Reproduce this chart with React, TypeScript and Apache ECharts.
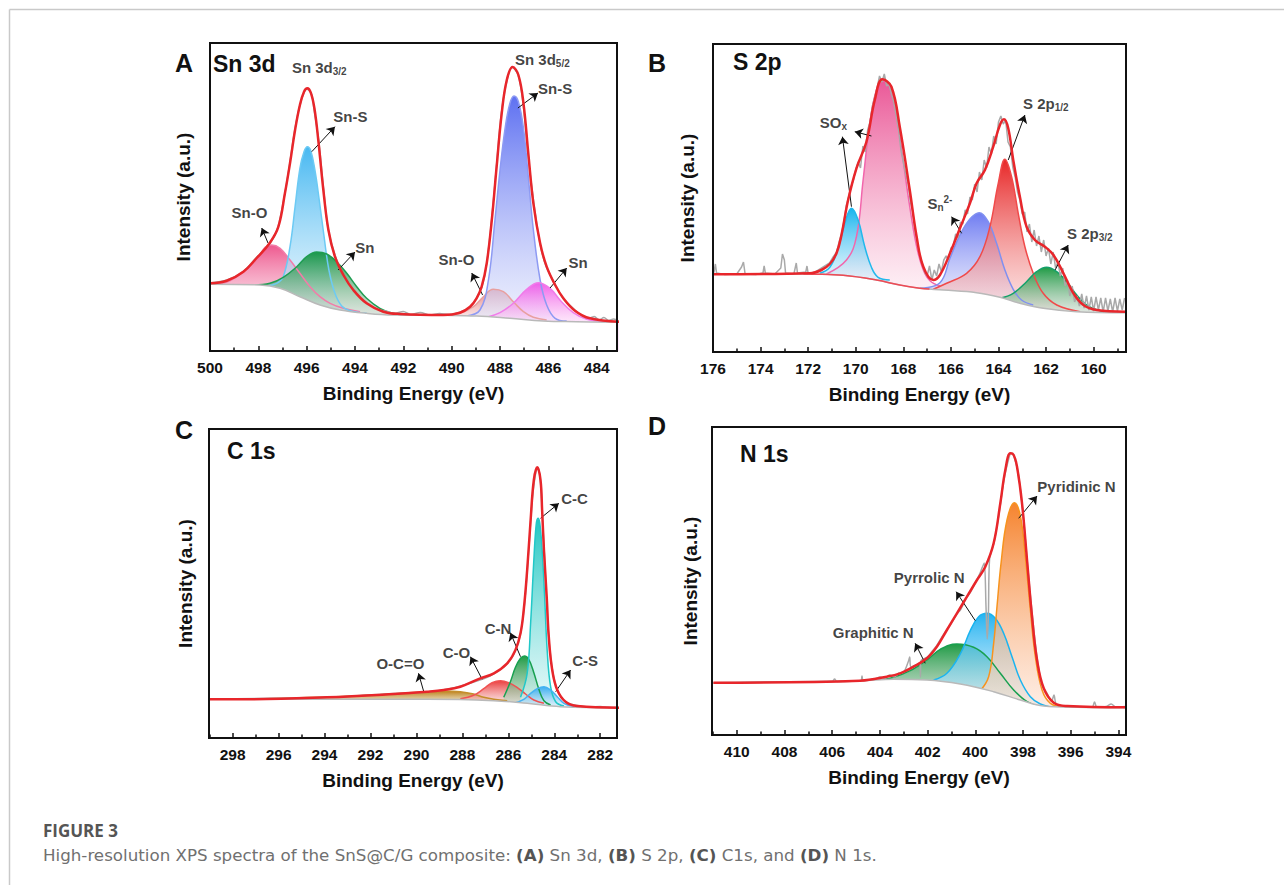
import React, { useEffect, useRef } from "react";
import * as echarts from "echarts";

type Pt = [number, number];

// ---------------- Panel A : Sn 3d ----------------
const aBackground: Pt[] = [[500, 66.7], [497.93, 66], [497.1, 62.7], [496.28, 54.3], [495.45, 46], [494.62, 41], [493.52, 37.7], [492.41, 36], [490.34, 35.7], [488.97, 35], [487.59, 32.7], [486.21, 30], [484.83, 29.3], [483.03, 28.7]];
const aEnvelope: Pt[] = [[500, 67.7], [499.31, 70.3], [498.62, 79.3], [498.07, 93], [497.52, 108.3], [497.17, 124.3], [496.9, 157.7], [496.69, 187.7], [496.48, 221], [496.28, 246], [496.11, 259.3], [495.97, 262.7], [495.83, 258.3], [495.68, 242.7], [495.52, 211], [495.31, 161], [495.1, 121], [494.83, 94.3], [494.48, 76], [494.07, 61], [493.52, 47.7], [492.83, 39.3], [492.14, 37], [490.34, 36], [489.66, 38.3], [489.24, 44.3], [488.97, 52.7], [488.76, 64.3], [488.55, 87.7], [488.34, 131], [488.14, 184.3], [487.93, 237.7], [487.72, 271], [487.48, 284], [487.24, 276], [487.03, 247.7], [486.83, 197.7], [486.62, 147.7], [486.34, 107.7], [486.07, 84.3], [485.72, 66], [485.38, 52.7], [484.9, 40.3], [484.28, 32.7], [483.03, 29.3]];
const aRaw: Pt[] = [[500, 68], [499.3, 71], [498.6, 80], [498.1, 93], [497.5, 108], [497.2, 123], [496.9, 158], [496.7, 188], [496.5, 220], [496.3, 244], [496.1, 259], [496.0, 262], [495.8, 257], [495.7, 242], [495.5, 210], [495.3, 162], [495.1, 121], [494.8, 94], [494.5, 77], [494.1, 62], [493.5, 48], [493.0, 41], [492.7, 40], [492.4, 37.5], [492.0, 39.5], [491.7, 36.5], [491.3, 38.5], [490.9, 36], [490.5, 37.5], [490.1, 36.5], [489.7, 38.5], [489.2, 44.5], [489.0, 52], [488.75, 64], [488.55, 88], [488.35, 131], [488.15, 184], [487.95, 237], [487.7, 272], [487.5, 284], [487.25, 276], [487.05, 248], [486.85, 198], [486.6, 148], [486.35, 108], [486.1, 85], [485.7, 66], [485.4, 53], [484.9, 41], [484.6, 35], [484.3, 33], [484.1, 34.5], [483.9, 31], [483.7, 33.5], [483.5, 30.5], [483.3, 32], [483.1, 30]];
const aSnO32: Pt[] = [[500, 66.7], [499.31, 69], [498.62, 79.3], [498.07, 91.5], [497.72, 103.7], [497.45, 106], [497.1, 102.7], [496.69, 91], [496.28, 77.7], [495.86, 64.3], [495.45, 54.3], [495.03, 47.7], [494.48, 42.7], [493.79, 39.3]];
const aSnS32: Pt[] = [[497.66, 65], [497.24, 67.7], [496.97, 74.3], [496.69, 104.3], [496.48, 144.3], [496.28, 182.7], [496.11, 199.3], [495.97, 204.3], [495.83, 200.3], [495.66, 181], [495.48, 151], [495.28, 114.3], [495.08, 81], [494.83, 57.7], [494.55, 45], [494.21, 40.3], [493.52, 37.7]];
const aSn32: Pt[] = [[498.21, 66], [497.52, 67.7], [496.97, 73.7], [496.41, 84.3], [496.0, 94.3], [495.59, 99], [495.17, 97], [494.76, 89.3], [494.34, 77.7], [493.93, 64.3], [493.52, 52.7], [492.97, 42.7], [492.41, 37.7], [491.72, 36]];
const aSnO52: Pt[] = [[490.21, 35.7], [489.66, 37.7], [489.1, 44.3], [488.69, 54.3], [488.28, 61.7], [487.86, 59.3], [487.45, 49.3], [487.03, 39.3], [486.62, 33.7], [486.07, 31]];
const aSnS52: Pt[] = [[489.38, 35], [488.83, 41], [488.48, 71], [488.21, 131], [488.0, 181], [487.79, 222.7], [487.59, 247.7], [487.42, 255], [487.24, 249.3], [487.03, 222.7], [486.83, 174.3], [486.62, 121], [486.34, 71], [486.07, 46], [485.72, 32.7], [485.24, 30]];
const aSn52: Pt[] = [[488.55, 33.7], [488.0, 38.3], [487.45, 47.7], [486.9, 61.7], [486.41, 68.3], [485.93, 62.7], [485.52, 51], [484.97, 38.3], [484.41, 31.7], [483.72, 29.3], [483.03, 28.7]];
const aLabels = [
  { x: 496.61, y: 284, text: "{m|Sn 3d}{sb|3/2}", align: "left" },
  { x: 494.19, y: 235, text: "Sn-S" },
  { x: 498.37, y: 139, text: "Sn-O" },
  { x: 493.59, y: 104, text: "Sn" },
  { x: 487.38, y: 292, text: "{m|Sn 3d}{sb|5/2}", align: "left" },
  { x: 485.72, y: 263, text: "Sn-S" },
  { x: 489.8, y: 92, text: "Sn-O" },
  { x: 484.77, y: 89, text: "Sn" },
];
const aArrows: [Pt, Pt][] = [
  [[495.79, 199.3], [494.83, 224.3]],
  [[497.6, 108], [497.86, 123]],
  [[494.7, 81], [494.0, 99]],
  [[487.26, 243], [486.43, 258]],
  [[488.72, 56], [489.17, 78]],
  [[485.93, 63], [485.24, 83]],
];

// ---------------- Panel B : S 2p ----------------
const bBackground: Pt[] = [[176, 77.7], [171.93, 78], [170.53, 76.7], [169.13, 72], [168.15, 67], [167.3, 63.7], [166.32, 62], [164.92, 59.3], [163.94, 54.7], [163.1, 48.7], [162.12, 43.7], [160.71, 40.3], [158.68, 39.3]];
const bEnvelope: Pt[] = [[176, 77.7], [171.93, 78.7], [171.44, 82], [171.09, 88], [170.81, 98.7], [170.6, 117], [170.32, 152], [169.97, 183.7], [169.55, 210.3], [169.2, 252], [168.88, 272.7], [168.5, 265.3], [168.15, 225.3], [167.73, 162], [167.44, 115.3], [167.16, 85.3], [166.74, 72], [166.46, 77], [166.04, 98.7], [165.62, 123.7], [165.2, 148.7], [164.92, 168.7], [164.57, 182], [164.22, 205.3], [163.94, 227], [163.77, 232.7], [163.59, 223.7], [163.38, 192], [163.1, 155.3], [162.82, 125.3], [162.47, 112], [162.05, 105.3], [161.69, 97], [161.27, 78.7], [160.85, 58.7], [160.43, 47], [159.87, 42], [158.68, 40.3]];
const bRaw: Pt[] = [[176, 77], [175.95, 81], [175.9, 88], [175.85, 79], [175.5, 77.5], [175.0, 78], [174.8, 85], [174.72, 90], [174.65, 78], [174.2, 77.5], [173.9, 79], [173.85, 86], [173.8, 79], [173.4, 78], [173.15, 84], [173.08, 98], [173.0, 92], [172.95, 79], [172.6, 78], [172.5, 89], [172.45, 79], [172.1, 80], [172.05, 86], [172.0, 78.5], [171.7, 80], [171.5, 83], [171.3, 86], [171.1, 89], [170.95, 95], [170.8, 100], [170.7, 110], [170.6, 118], [170.5, 130], [170.4, 146], [170.3, 155], [170.2, 165], [170.1, 172], [170.0, 182], [169.9, 190], [169.8, 184], [169.7, 206], [169.6, 200], [169.5, 222], [169.4, 230], [169.3, 246], [169.2, 255], [169.1, 264], [169.0, 276], [168.9, 270], [168.8, 278], [168.7, 266], [168.6, 268], [168.5, 258], [168.4, 250], [168.3, 236], [168.2, 222], [168.1, 202], [168.0, 190], [167.9, 178], [167.8, 168], [167.7, 150], [167.6, 140], [167.5, 120], [167.4, 108], [167.3, 96], [167.2, 88], [167.1, 80], [167.0, 76], [166.9, 86], [166.8, 72], [166.7, 82], [166.6, 76], [166.5, 88], [166.4, 80], [166.3, 92], [166.2, 96], [166.1, 92], [166.0, 104], [165.9, 106], [165.8, 118], [165.7, 114], [165.6, 130], [165.5, 128], [165.4, 142], [165.3, 138], [165.2, 155], [165.1, 152], [165.0, 168], [164.9, 160], [164.8, 180], [164.7, 172], [164.6, 192], [164.5, 184], [164.4, 205], [164.3, 198], [164.2, 216], [164.1, 208], [164.0, 230], [163.9, 236], [163.8, 228], [163.7, 232], [163.6, 210], [163.5, 205], [163.4, 185], [163.3, 175], [163.2, 160], [163.1, 152], [163.0, 138], [162.9, 140], [162.8, 120], [162.7, 128], [162.6, 110], [162.5, 122], [162.4, 106], [162.3, 116], [162.2, 100], [162.1, 112], [162.0, 96], [161.9, 104], [161.8, 88], [161.7, 100], [161.6, 84], [161.5, 90], [161.4, 76], [161.3, 84], [161.2, 66], [161.1, 72], [161.0, 56], [160.9, 66], [160.8, 50], [160.7, 56], [160.6, 46], [160.5, 58], [160.4, 44], [160.3, 56], [160.2, 42], [160.1, 55], [160.0, 41], [159.9, 55], [159.8, 42], [159.7, 54], [159.6, 40], [159.5, 54], [159.4, 41], [159.3, 53], [159.2, 40], [159.1, 54], [159.0, 41], [158.9, 53], [158.8, 42], [158.7, 54]];
const bSOxPink: Pt[] = [[171.23, 78], [170.39, 92], [169.97, 115.3], [169.69, 172], [169.41, 228.7], [169.13, 262], [168.86, 271.3], [168.57, 265.3], [168.29, 238.7], [168.01, 192], [167.73, 145.3], [167.44, 105.3], [167.16, 82], [166.88, 71.3], [166.46, 66]];
const bSOxCyan: Pt[] = [[171.51, 78.7], [171.09, 84.7], [170.74, 103.7], [170.46, 128.7], [170.18, 143.7], [169.9, 132], [169.62, 105.3], [169.34, 84.7], [169.06, 74.7], [168.57, 72]];
const bSn2: Pt[] = [[167.3, 63.7], [166.46, 69.3], [166.04, 93.7], [165.62, 117], [165.2, 133], [164.81, 139.3], [164.43, 130.3], [164.08, 108.7], [163.73, 82], [163.38, 62.7], [163.03, 52], [162.54, 47]];
const bS2p12: Pt[] = [[166.74, 62.7], [166.18, 68.7], [165.34, 78.7], [164.78, 95.3], [164.36, 125.3], [164.01, 168.7], [163.73, 192.7], [163.45, 175.3], [163.17, 138.7], [162.89, 105.3], [162.54, 78.7], [162.12, 58.7], [161.55, 47], [160.57, 40.3]];
const bS2p32: Pt[] = [[163.94, 53.7], [163.38, 58.7], [162.82, 70.3], [162.4, 80.3], [161.98, 84.7], [161.55, 80.3], [161.13, 70.3], [160.71, 57], [160.29, 47], [159.73, 41.3], [159.17, 39.3]];
const bLabels = [
  { x: 170.94, y: 230, text: "{m|SO}{sb|x}" },
  { x: 166.46, y: 149, text: "{m|S}{sb|n}{sp|2-}" },
  { x: 162.97, y: 249, text: "{m|S 2p}{sb|1/2}", align: "left" },
  { x: 161.12, y: 119, text: "{m|S 2p}{sb|3/2}", align: "left" },
];
const bArrows: [Pt, Pt][] = [
  [[170.18, 145.3], [170.56, 215.3]],
  [[169.34, 216], [170.04, 220.3]],
  [[165.55, 118.7], [165.97, 135.3]],
  [[163.59, 192], [162.89, 237]],
  [[161.62, 82], [161.07, 107]],
];
// red fitted baseline under the SOx doublet
const bRedBase: Pt[] = [[172.2, 78.2], [171.93, 78], [170.53, 76.7], [169.13, 72], [168.15, 67], [167.3, 63.7], [166.9, 62.9]];

// ---------------- Panel C : C 1s ----------------
const cBackground: Pt[] = [[299, 38.7], [289.54, 38.7], [286.63, 37.3], [285.18, 34.7], [283.73, 31.3], [281.11, 30.3]];
const cEnvelope: Pt[] = [[299, 38.7], [297.53, 38.7], [293.9, 40.7], [290.99, 44], [289.54, 46.3], [288.81, 48], [288.09, 51.3], [287.22, 59.7], [286.63, 64.7], [286.05, 74.7], [285.69, 88], [285.47, 104.7], [285.33, 128], [285.18, 168], [285.03, 218], [284.89, 258], [284.74, 270.7], [284.6, 258], [284.53, 228], [284.45, 188], [284.33, 141.3], [284.24, 101.3], [284.09, 68], [283.87, 48], [283.51, 36.3], [283.0, 32], [281.11, 30.3]];
const cRaw: Pt[] = [[299, 39], [297, 39.5], [295, 40], [293, 41.5], [291, 44.5], [289.5, 46], [288.5, 49.5], [287.5, 56], [286.8, 62], [286.2, 71], [285.8, 82], [285.5, 101], [285.3, 133], [285.1, 192], [284.95, 240], [284.8, 266], [284.7, 270], [284.6, 256], [284.5, 214], [284.4, 170], [284.3, 122], [284.2, 90], [284.0, 58], [283.8, 45], [283.5, 36], [283.0, 32.5], [282.5, 31], [282.0, 31.5], [281.5, 30.5], [281.2, 30.5]];
const cOCO: Pt[] = [[297.68, 38.7], [295.35, 40], [292.45, 42.3], [289.9, 45.7], [288.81, 47], [288.09, 46.3], [287.51, 44], [287.07, 40.7], [286.63, 38.7], [286.05, 37.3]];
const cCO: Pt[] = [[288.09, 39.3], [287.51, 42.7], [287.07, 49.3], [286.71, 55.3], [286.34, 57.3], [285.98, 55.3], [285.62, 50.7], [285.25, 44], [284.89, 38], [284.45, 34.7]];
const cCN: Pt[] = [[286.2, 40.7], [285.91, 56.3], [285.69, 70.7], [285.47, 79.7], [285.3, 82], [285.11, 78.7], [284.89, 65.3], [284.67, 48.7], [284.45, 37.3], [284.16, 33]];
const cCC: Pt[] = [[285.47, 40.7], [285.18, 64.7], [285.03, 114.7], [284.89, 178], [284.79, 213], [284.71, 219.7], [284.63, 214.7], [284.53, 188], [284.42, 141.3], [284.31, 88], [284.16, 51.3], [283.94, 36.3], [283.58, 32]];
const cCS: Pt[] = [[285.76, 34.7], [285.33, 38.7], [285.03, 44.7], [284.74, 49.3], [284.45, 51.3], [284.16, 48], [283.87, 41.3], [283.58, 34.7], [283.15, 31.3]];
const cLabels = [
  { x: 283.12, y: 240, text: "C-C" },
  { x: 286.45, y: 110, text: "C-N" },
  { x: 288.26, y: 86, text: "C-O" },
  { x: 290.7, y: 75, text: "O-C=O" },
  { x: 282.66, y: 78, text: "C-S" },
];
const cArrows: [Pt, Pt][] = [
  [[284.6, 219.7], [283.8, 234.7]],
  [[285.47, 81.3], [285.91, 105.3]],
  [[287.14, 58.7], [287.65, 81.3]],
  [[289.69, 47], [289.91, 64.7]],
  [[283.94, 46.3], [283.29, 68]],
];

// ---------------- Panel D : N 1s ----------------
const dBackground: Pt[] = [[410.98, 52.3], [404.83, 54.3], [403.43, 55.7], [402.03, 55], [400.63, 51], [399.23, 43.3], [398.11, 35], [397.13, 29], [395.73, 27.7], [393.71, 27.3]];
const dEnvelope: Pt[] = [[410.98, 52.3], [404.83, 54.3], [403.71, 58.3], [403.15, 61.7], [402.59, 68.3], [402.03, 76.7], [401.61, 88.3], [401.19, 105], [400.77, 121.7], [400.35, 138.3], [399.93, 155], [399.58, 168.3], [399.23, 191.7], [398.95, 231.7], [398.74, 265], [398.53, 281.7], [398.39, 280], [398.25, 268.3], [398.04, 231.7], [397.83, 175], [397.62, 118.3], [397.41, 75], [397.13, 46.7], [396.71, 32.3], [396.15, 29], [393.71, 27.7]];
const dRaw: Pt[] = [[410.98, 52], [408, 53], [406.0, 53.5], [405.9, 56], [405.8, 53.5], [404.8, 54.5], [404.75, 59], [404.7, 54.5], [404.2, 56], [404.0, 58], [403.8, 56.5], [403.6, 60], [403.4, 58], [403.2, 62], [403.0, 63], [402.8, 74], [402.75, 78], [402.7, 68], [402.5, 70], [402.32, 72], [402.3, 58], [402.28, 74], [402.0, 78], [401.8, 84], [401.6, 90], [401.4, 98], [401.2, 105], [401.0, 112], [400.8, 120], [400.6, 126], [400.4, 136], [400.2, 143], [400.0, 152], [399.8, 162], [399.7, 168], [399.62, 172], [399.55, 128], [399.5, 96], [399.45, 120], [399.4, 176], [399.2, 194], [399.0, 222], [398.8, 255], [398.6, 276], [398.5, 282], [398.4, 280], [398.2, 262], [398.0, 222], [397.8, 168], [397.6, 118], [397.4, 76], [397.2, 50], [397.0, 42], [396.8, 34], [396.7, 40], [396.6, 31], [396.2, 29], [395.6, 28], [395.1, 28], [395.0, 33], [394.9, 28], [394.5, 28.5], [394.3, 31], [394.1, 28], [393.7, 28.5]];
const dGraphitic: Pt[] = [[404.13, 54.3], [403.43, 57.7], [402.73, 64.3], [402.03, 75], [401.47, 85.7], [400.77, 91], [400.07, 87.7], [399.51, 78.3], [398.95, 61.7], [398.39, 45], [397.83, 33.3], [397.27, 28.3], [396.71, 27.3]];
const dPyrrolic: Pt[] = [[401.75, 55], [401.19, 61.7], [400.63, 81], [400.21, 104.3], [399.86, 118.3], [399.51, 121.7], [399.16, 116.7], [398.81, 101.7], [398.46, 78.3], [398.11, 55], [397.69, 38.3], [397.27, 31], [396.71, 27.7]];
const dPyridinic: Pt[] = [[399.79, 44.3], [399.44, 58.3], [399.23, 91.7], [399.09, 128.3], [398.92, 171.7], [398.67, 215], [398.36, 232.3], [398.11, 219], [397.9, 178.3], [397.69, 125], [397.48, 78.3], [397.2, 45], [396.85, 31.7], [396.29, 28.3], [393.71, 27.3]];
const dLabels = [
  { x: 397.4, y: 249, text: "Pyridinic N", align: "left" },
  { x: 401.93, y: 158, text: "Pyrrolic N" },
  { x: 404.28, y: 103, text: "Graphitic N" },
];
const dArrows: [Pt, Pt][] = [
  [[398.18, 216.7], [397.41, 239]],
  [[400.0, 114.3], [400.8, 143.3]],
  [[402.1, 71.7], [402.52, 91.7]],
];

// ---------------- layout / style ----------------
const FONT = '"Liberation Sans", Arial, Helvetica, sans-serif';
const CAP_FONT = '"Open Sans", "Noto Sans", sans-serif';
const CAP_BODY_FONT = '"DejaVu Sans", "Open Sans", sans-serif';
const INK = "#111111";
const RED = "#e8262b";

type Comp = { data: Pt[]; line: string; top: string; bottom: string };
type Panel = {
  letter: string; letterPos: [number, number];
  title: string; titlePos: [number, number];
  grid: { left: number; top: number; width: number; height: number };
  xMin: number; xMax: number; yMax: number; yGap: number;
  comps: Comp[]; background: Pt[]; raw: Pt[]; envelope: Pt[]; redBase?: Pt[];
  labels: { x: number; y: number; text: string; align?: string }[];
  arrows: [Pt, Pt][]; rawSmooth: number | boolean;
};

const panels: Panel[] = [
  {
    letter: "A", letterPos: [175, 63], title: "Sn 3d", titlePos: [213, 64],
    grid: { left: 210, top: 43, width: 407, height: 308 },
    xMin: 483.16, xMax: 500, yMax: 308, yGap: 18,
    comps: [
      { data: aSnO32, line: "#f27ca8", top: "rgba(236,70,130,0.9)", bottom: "rgba(250,210,225,0.55)" },
      { data: aSnS32, line: "#6ccaf4", top: "rgba(55,178,240,0.92)", bottom: "rgba(225,242,252,0.6)" },
      { data: aSn32, line: "#1f9d52", top: "rgba(18,148,68,0.95)", bottom: "rgba(200,212,200,0.6)" },
      { data: aSnO52, line: "#e8a0a0", top: "rgba(225,110,110,0.85)", bottom: "rgba(248,222,222,0.6)" },
      { data: aSnS52, line: "#8d9af3", top: "rgba(80,100,240,0.92)", bottom: "rgba(228,232,252,0.6)" },
      { data: aSn52, line: "#f07ce9", top: "rgba(240,80,230,0.9)", bottom: "rgba(252,215,248,0.6)" },
    ],
    background: aBackground, raw: aRaw, envelope: aEnvelope, labels: aLabels, arrows: aArrows, rawSmooth: 0.3,
  },
  {
    letter: "B", letterPos: [648, 63], title: "S 2p", titlePos: [733, 62],
    grid: { left: 713, top: 44, width: 413, height: 308 },
    xMin: 158.64, xMax: 176, yMax: 308, yGap: 16.5,
    comps: [
      { data: bSOxPink, line: "#f266ac", top: "rgba(232,70,140,0.9)", bottom: "rgba(252,225,236,0.6)" },
      { data: bSOxCyan, line: "#22b8ec", top: "rgba(10,176,236,0.95)", bottom: "rgba(215,240,252,0.6)" },
      { data: bSn2, line: "#8090f0", top: "rgba(95,110,240,0.9)", bottom: "rgba(226,228,252,0.6)" },
      { data: bS2p12, line: "#f04a4a", top: "rgba(230,28,28,0.95)", bottom: "rgba(250,215,215,0.6)" },
      { data: bS2p32, line: "#14a06a", top: "rgba(20,150,60,0.95)", bottom: "rgba(205,215,205,0.6)" },
    ],
    background: bBackground, raw: bRaw, envelope: bEnvelope, redBase: bRedBase, labels: bLabels, arrows: bArrows, rawSmooth: false,
  },
  {
    letter: "C", letterPos: [175, 430], title: "C 1s", titlePos: [227, 451],
    grid: { left: 209, top: 429, width: 408, height: 309 },
    xMin: 281.27, xMax: 299.03, yMax: 309, yGap: 14.5,
    comps: [
      { data: cOCO, line: "#c48e2c", top: "rgba(185,120,10,0.95)", bottom: "rgba(220,200,150,0.7)" },
      { data: cCO, line: "#f05252", top: "rgba(232,40,40,0.9)", bottom: "rgba(248,210,210,0.6)" },
      { data: cCN, line: "#18a050", top: "rgba(20,150,60,0.95)", bottom: "rgba(200,215,200,0.6)" },
      { data: cCC, line: "#22c8c8", top: "rgba(20,195,190,0.95)", bottom: "rgba(215,245,245,0.6)" },
      { data: cCS, line: "#44b2f2", top: "rgba(40,165,240,0.9)", bottom: "rgba(215,235,250,0.6)" },
    ],
    background: cBackground, raw: cRaw, envelope: cEnvelope, labels: cLabels, arrows: cArrows, rawSmooth: 0.3,
  },
  {
    letter: "D", letterPos: [648, 426], title: "N 1s", titlePos: [740, 454],
    grid: { left: 712, top: 427, width: 414, height: 308 },
    xMin: 393.68, xMax: 411.04, yMax: 308, yGap: 13,
    comps: [
      { data: dGraphitic, line: "#18a050", top: "rgba(20,150,60,0.95)", bottom: "rgba(205,215,205,0.6)" },
      { data: dPyrrolic, line: "#1ab4f0", top: "rgba(25,175,240,0.95)", bottom: "rgba(220,240,252,0.6)" },
      { data: dPyridinic, line: "#f7931e", top: "rgba(245,125,35,0.95)", bottom: "rgba(253,225,210,0.6)" },
    ],
    background: dBackground, raw: dRaw, envelope: dEnvelope, labels: dLabels, arrows: dArrows, rawSmooth: 0.3,
  },
];

function fill(c: Comp) {
  const ys = c.data.map((p) => p[1]);
  const peak = Math.max(...ys);
  const base = Math.min(...ys);
  const off = Math.min(0.97, Math.max(0.05, (peak - base) / peak));
  return new echarts.graphic.LinearGradient(0, 0, 0, 1, [
    { offset: 0, color: c.top },
    { offset: off, color: c.bottom },
    { offset: 1, color: c.bottom },
  ]);
}

const evenLabel = (v: number) => {
  const r = Math.round(v);
  return Math.abs(v - r) < 1e-6 && r % 2 === 0 ? String(r) : "";
};

const rich = {
  m: { fontSize: 15, fontWeight: "bold", fontFamily: FONT, color: INK, lineHeight: 18 },
  sb: { fontSize: 10, fontWeight: "bold", fontFamily: FONT, color: INK, lineHeight: 8, verticalAlign: "bottom" },
  sp: { fontSize: 10, fontWeight: "bold", fontFamily: FONT, color: INK, lineHeight: 8, verticalAlign: "top" },
};

function buildOption() {
  const grid: any[] = [];
  const xAxis: any[] = [];
  const yAxis: any[] = [];
  const series: any[] = [];
  const graphic: any[] = [
    { type: "line", shape: { x1: 9.5, y1: 9.5, x2: 1284, y2: 9.5 }, style: { stroke: "#c9c9c9", lineWidth: 1.5 } },
    { type: "line", shape: { x1: 9.5, y1: 9.5, x2: 9.5, y2: 885 }, style: { stroke: "#c9c9c9", lineWidth: 1.5 } },
    { type: "text", x: 43, y: 830, style: { text: "FIGURE 3", fill: "#555555", font: `700 17px ${CAP_FONT}`, verticalAlign: "middle" } },
    {
      type: "text", x: 43, y: 855,
      style: {
        text: "High-resolution XPS spectra of the SnS@C/G composite: {b|(A)} Sn 3d, {b|(B)} S 2p, {b|(C)} C1s, and {b|(D)} N 1s.",
        fill: "#707070", font: `400 16.7px ${CAP_BODY_FONT}`, verticalAlign: "middle",
        rich: { b: { fontWeight: "bold", fontSize: 16.7, fontFamily: CAP_BODY_FONT, fill: "#555555" } },
      },
    },
  ];

  panels.forEach((p, i) => {
    grid.push({ ...p.grid, show: true, borderColor: INK, borderWidth: 2, backgroundColor: "rgba(0,0,0,0)", z: 8 });
    xAxis.push({
      gridIndex: i, type: "value", inverse: true, min: p.xMin, max: p.xMax, splitNumber: 8, z: 8,
      axisLine: { show: true, onZero: false, lineStyle: { color: INK, width: 2 } },
      axisTick: { show: true, inside: true, length: 5, lineStyle: { color: INK, width: 1.5 } },
      minorTick: { show: true, splitNumber: 2, length: 3.5, lineStyle: { color: INK, width: 1.5 } },
      splitLine: { show: false },
      axisLabel: { margin: 8, color: INK, fontSize: 15.5, fontWeight: "bold", fontFamily: FONT, formatter: evenLabel },
      name: "Binding Energy (eV)", nameLocation: "middle", nameGap: 33,
      nameTextStyle: { fontSize: 19, fontWeight: "bold", color: INK, fontFamily: FONT },
    });
    yAxis.push({
      gridIndex: i, type: "value", min: 0, max: p.yMax, z: 8,
      axisLine: { show: false }, axisTick: { show: false }, axisLabel: { show: false }, splitLine: { show: false },
      name: "Intensity (a.u.)", nameLocation: "middle", nameGap: p.yGap - 0.5,
      nameTextStyle: { fontSize: 19, fontWeight: "bold", color: INK, fontFamily: FONT },
    });

    p.comps.forEach((c) => {
      series.push({
        type: "line", xAxisIndex: i, yAxisIndex: i, data: c.data, smooth: 0.4, symbol: "none", z: 2,
        lineStyle: { color: c.line, width: 1.5 }, areaStyle: { color: fill(c), opacity: 1 }, silent: true,
      });
    });
    // white mask under the background line
    series.push({
      type: "line", xAxisIndex: i, yAxisIndex: i, data: p.background, smooth: 0.4, symbol: "none", z: 3,
      lineStyle: { width: 0, opacity: 0 }, areaStyle: { color: "#ffffff", opacity: 1 }, silent: true,
    });
    series.push({
      type: "line", xAxisIndex: i, yAxisIndex: i, data: p.background, smooth: 0.4, symbol: "none", z: 4,
      lineStyle: { color: "#b9b9b9", width: 1.5 }, silent: true,
    });
    if (p.redBase) {
      series.push({
        type: "line", xAxisIndex: i, yAxisIndex: i, data: p.redBase, smooth: 0.4, symbol: "none", z: 4,
        lineStyle: { color: "#ee4a55", width: 1.5 }, silent: true,
      });
    }
    series.push({
      type: "line", xAxisIndex: i, yAxisIndex: i, data: p.raw, smooth: p.rawSmooth, symbol: "none", z: 4,
      lineStyle: { color: "#a9a9a9", width: 1.5 }, silent: true,
    });
    series.push({
      type: "line", xAxisIndex: i, yAxisIndex: i, data: p.envelope, smooth: 0.4, symbol: "none", z: 5,
      lineStyle: { color: RED, width: 2.5 }, silent: true,
    });
    series.push({
      type: "scatter", xAxisIndex: i, yAxisIndex: i, symbolSize: 1, z: 6, silent: true,
      itemStyle: { color: "rgba(0,0,0,0)" },
      data: p.labels.map((l) => ({ value: [l.x, l.y], text: l.text, label: l.align ? { align: l.align } : {} })),
      label: {
        show: true, position: "inside", color: INK, fontSize: 15, fontWeight: "bold", fontFamily: FONT,
        formatter: (q: any) => q.data.text, rich,
      },
      markLine: {
        silent: true, symbol: ["none", "arrow"], symbolSize: 8, animation: false,
        lineStyle: { color: INK, width: 1, type: "solid" }, label: { show: false },
        data: p.arrows.map(([a, b]) => [{ coord: a }, { coord: b }]),
      },
    });

    graphic.push({ type: "text", x: p.letterPos[0], y: p.letterPos[1], style: { text: p.letter, fill: INK, font: `bold 25px ${FONT}`, verticalAlign: "middle" } });
    graphic.push({ type: "text", x: p.titlePos[0], y: p.titlePos[1], style: { text: p.title, fill: INK, font: `bold 23px ${FONT}`, verticalAlign: "middle" } });
  });

  return { animation: false, backgroundColor: "#ffffff", grid, xAxis, yAxis, series, graphic };
}

export default function App() {
  const ref = useRef<HTMLDivElement>(null);
  useEffect(() => {
    if (!ref.current) return;
    const chart = echarts.init(ref.current, undefined, { renderer: "svg" });
    chart.setOption(buildOption() as any);
    return () => chart.dispose();
  }, []);
  return <div ref={ref} style={{ position: "absolute", left: 0, top: 0, width: 1284, height: 885, background: "#fff" }} />;
}
